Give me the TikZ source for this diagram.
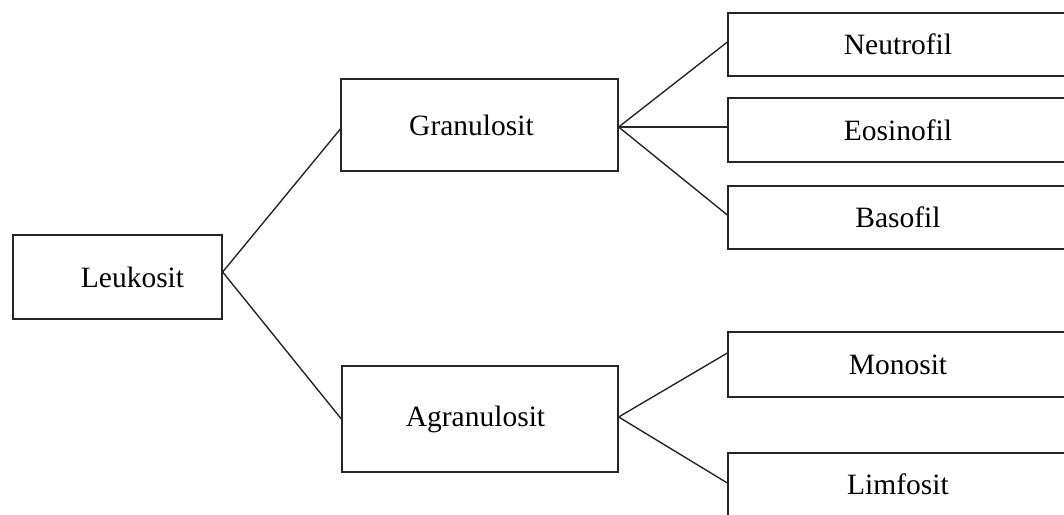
\documentclass[tikz,border=0pt]{standalone}
\usepackage{fontspec}
\setmainfont{Liberation Serif}
\begin{document}
\begin{tikzpicture}[x=1pt,y=-1pt,
  box/.style={draw=black!85, line width=1.3pt, rectangle, inner sep=0pt, font=\fontsize{29.5}{32}\selectfont},
  rbox/.style={box, minimum width=340pt, minimum height=63pt},
  link/.style={draw=black!85, line width=1.4pt}]
\useasboundingbox (0,0) rectangle (1064,514);
\clip (0,0) rectangle (1064,514);
\node[box, minimum width=209pt, minimum height=84pt] (leu) at (117.5,277) {\hspace*{30pt}Leukosit};
\node[box, minimum width=277pt, minimum height=92pt] (gra) at (479.5,125) {Granulosit\hspace*{16pt}};
\node[box, minimum width=276pt, minimum height=106pt] (agr) at (480,419) {Agranulosit\hspace*{9pt}};
\node[rbox] (neu) at (898,44.5) {Neutrofil};
\node[rbox, minimum height=64pt] (eos) at (898,130) {Eosinofil};
\node[rbox] (bas) at (898,217.5) {Basofil};
\node[rbox, minimum height=65pt] (mon) at (898,364.5) {Monosit};
\node[rbox, minimum height=66pt] (lim) at (898,486) {\raisebox{3pt}{Limfosit}};
\draw[link] ([yshift=5pt]leu.east) -- ([yshift=-4pt]gra.west);
\draw[link] ([yshift=5pt]leu.east) -- (agr.west);
\draw[link] ([yshift=-2pt]gra.east) -- ([yshift=2.5pt]neu.west);
\draw[link] ([yshift=-2pt]gra.east) -- ([yshift=3pt]eos.west);
\draw[link] ([yshift=-2pt]gra.east) -- ([yshift=2.5pt]bas.west);
\draw[link] ([yshift=2pt]agr.east) -- ([yshift=11.5pt]mon.west);
\draw[link] ([yshift=2pt]agr.east) -- ([yshift=3pt]lim.west);
\end{tikzpicture}
\end{document}
